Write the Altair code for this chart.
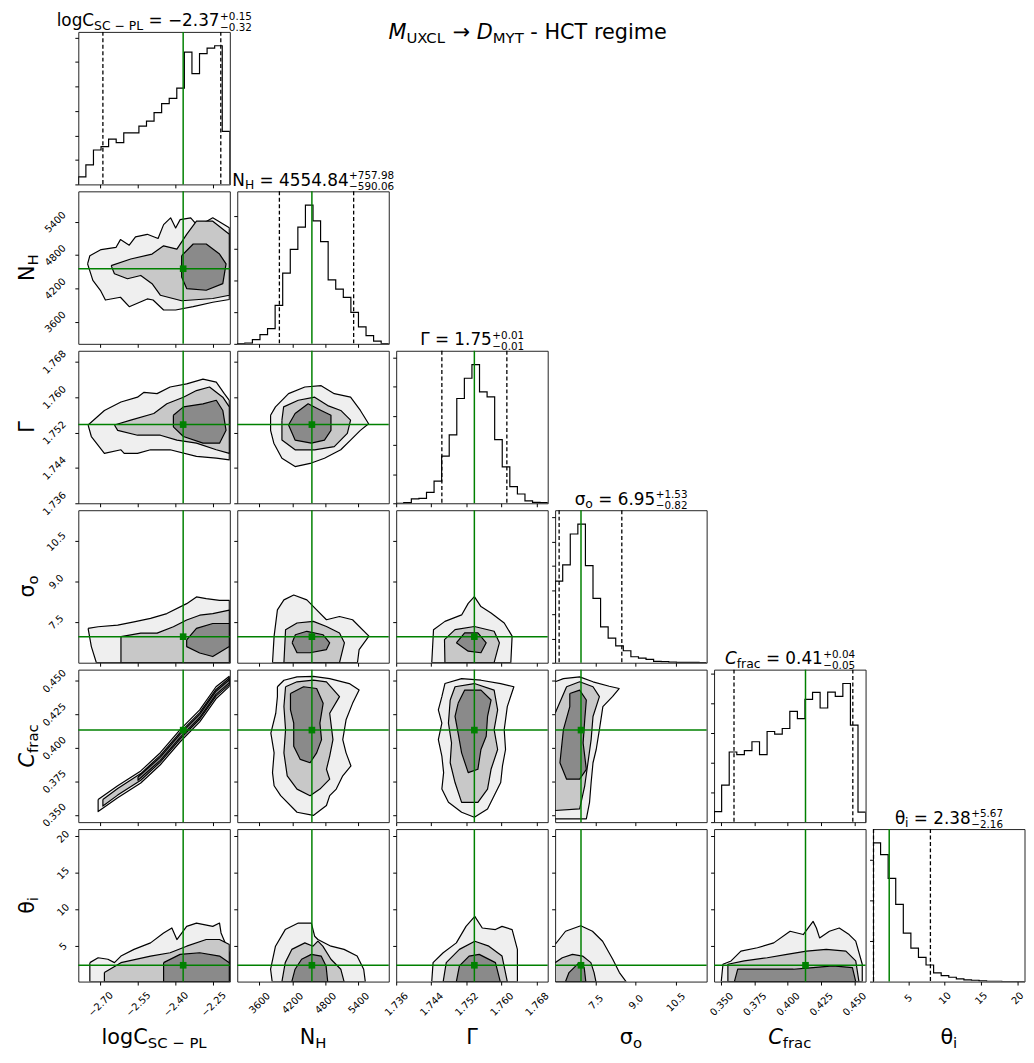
import altair as alt
import pandas as pd

FONT = "DejaVu Sans"
W, H = 153, 154
GREEN = "#008000"

# ---------------- data ----------------
domains = [[-2.788, -2.184], [3200, 5950], [1.736, 1.7705], [5.98, 11.66], [0.3445, 0.4585], [0.15, 21.0]]
tick_values = [[-2.70, -2.55, -2.40, -2.25], [3600, 4200, 4800, 5400],
               [1.736, 1.744, 1.752, 1.760, 1.768], [7.5, 9.0, 10.5],
               [0.350, 0.375, 0.400, 0.425, 0.450], [5, 10, 15, 20]]
tick_formats = [".2f", "d", ".3f", ".1f", ".3f", "d"]
medians = [-2.37, 4554.84, 1.7538, 6.95, 0.4133, 2.38]
q16 = [-2.69, 3964.78, 1.7464, 6.13, 0.3595, 0.22]
q84 = [-2.22, 5312.82, 1.7612, 8.48, 0.4489, 8.05]

hist_logC = [23, 59, 104, 114, 137, 126, 156, 156, 176, 191, 217, 244, 260, 291, 400, 335, 395, 412, 419, 160]
hist_NH = [1, 2, 13, 28, 46, 116, 213, 285, 352, 418, 371, 308, 193, 165, 140, 95, 51, 25, 8, 1]
hist_Gamma = [0, 2, 13, 15, 33, 67, 142, 206, 316, 377, 418, 336, 321, 192, 110, 50, 28, 7, 3, 2]
hist_sigma = [246, 295, 388, 418, 293, 194, 108, 74, 51, 36, 18, 14, 10, 4, 3, 2, 1, 1, 1, 0]
hist_Cfrac = [32, 112, 212, 204, 216, 243, 204, 274, 266, 283, 335, 313, 371, 392, 345, 393, 380, 419, 293, 30]
hist_theta = [418, 383, 311, 233, 146, 101, 73, 50, 26, 18, 13, 8, 5, 4, 2, 1, 1, 0, 0, 0]
hists = [hist_logC, hist_NH, hist_Gamma, hist_sigma, hist_Cfrac, hist_theta]
count_tick_step = [74, 96, 88, 73, 90, 122]

axis_labels = [("logC", "SC − PL", False), ("N", "H", False), ("Γ", "", False),
               ("σ", "o", False), ("C", "frac", True), ("θ", "i", False)]
value_str = ["−2.37", "4554.84", "1.75", "6.95", "0.41", "2.38"]
err_plus = ["+0.15", "+757.98", "+0.01", "+1.53", "+0.04", "+5.67"]
err_minus = ["−0.32", "−590.06", "−0.01", "−0.82", "−0.05", "−2.16"]

# contour polygons (x = column parameter, y = row parameter)
cont_1_0 = {
    "outer": [(-2.751, 4641), (-2.742, 4789), (-2.697, 4900), (-2.638, 4938), (-2.62, 5080), (-2.585, 4980),
              (-2.56, 5130), (-2.513, 5175), (-2.47, 5100), (-2.448, 5350), (-2.42, 5472), (-2.40, 5290),
              (-2.382, 5440), (-2.34, 5472), (-2.31, 5320), (-2.252, 5472), (-2.186, 5294), (-2.186, 4000),
              (-2.252, 3950), (-2.33, 3871), (-2.40, 3810), (-2.448, 3810), (-2.49, 3990), (-2.513, 4010),
              (-2.585, 3870), (-2.62, 4040), (-2.68, 3990), (-2.70, 4166), (-2.73, 4344)],
    "middle": [(-2.657, 4611), (-2.579, 4730), (-2.494, 4819), (-2.448, 4967), (-2.395, 4908), (-2.356, 5175),
               (-2.317, 5412), (-2.252, 5412), (-2.186, 5175), (-2.186, 4077), (-2.252, 4018), (-2.376, 3977),
               (-2.461, 4077), (-2.494, 4285), (-2.539, 4433), (-2.592, 4374), (-2.644, 4463)],
    "inner": [(-2.376, 4789), (-2.330, 5000), (-2.278, 5000), (-2.225, 4819), (-2.199, 4641), (-2.212, 4285),
              (-2.278, 4166), (-2.356, 4196), (-2.376, 4404)],
}
cont_2_0 = {
    "outer": [(-2.749, 1.7537), (-2.684, 1.7570), (-2.618, 1.7589), (-2.552, 1.7600), (-2.526, 1.7611),
              (-2.474, 1.7608), (-2.422, 1.7623), (-2.356, 1.7630), (-2.291, 1.7641), (-2.238, 1.7634),
              (-2.206, 1.7608), (-2.186, 1.7593), (-2.186, 1.7458), (-2.238, 1.7462), (-2.317, 1.7466),
              (-2.422, 1.7481), (-2.500, 1.7481), (-2.552, 1.7473), (-2.605, 1.7473), (-2.618, 1.7481),
              (-2.684, 1.7473), (-2.736, 1.7511)],
    "middle": [(-2.644, 1.7537), (-2.579, 1.7548), (-2.487, 1.7563), (-2.435, 1.7585), (-2.369, 1.7600),
               (-2.317, 1.7615), (-2.265, 1.7623), (-2.212, 1.7600), (-2.186, 1.7578), (-2.186, 1.7473),
               (-2.238, 1.7481), (-2.317, 1.7496), (-2.395, 1.7503), (-2.461, 1.7514), (-2.552, 1.7514),
               (-2.631, 1.7525)],
    "inner": [(-2.409, 1.7559), (-2.369, 1.7578), (-2.291, 1.7585), (-2.238, 1.7593), (-2.212, 1.7570),
              (-2.199, 1.7525), (-2.225, 1.7496), (-2.291, 1.7496), (-2.369, 1.7511), (-2.409, 1.7533)],
}
cont_2_1 = {
    "outer": [(3805, 1.7559), (3894, 1.7578), (4131, 1.7608), (4427, 1.7623), (4723, 1.7626), (4961, 1.7608),
              (5257, 1.7600), (5435, 1.7570), (5584, 1.7540), (5435, 1.7525), (5257, 1.7503), (5079, 1.7481),
              (4783, 1.7462), (4545, 1.7451), (4250, 1.7443), (4011, 1.7462), (3864, 1.7496), (3805, 1.7525)],
    "middle": [(4011, 1.7548), (4042, 1.7578), (4308, 1.7593), (4605, 1.7600), (4842, 1.7581), (5079, 1.7570),
               (5257, 1.7548), (5198, 1.7518), (4961, 1.7488), (4605, 1.7481), (4250, 1.7481), (4011, 1.7503)],
    "inner": [(4131, 1.7537), (4250, 1.7563), (4486, 1.7585), (4723, 1.7570), (4901, 1.7559), (4901, 1.7525),
              (4783, 1.7503), (4545, 1.7496), (4250, 1.7503)],
}
cont_3_0 = {
    "outer": [(-2.749, 7.26), (-2.709, 7.32), (-2.631, 7.38), (-2.566, 7.50), (-2.500, 7.63), (-2.435, 7.81),
              (-2.356, 8.18), (-2.317, 8.43), (-2.278, 8.37), (-2.225, 8.30), (-2.186, 8.30), (-2.186, 5.98),
              (-2.716, 5.98), (-2.736, 6.58)],
    "middle": [(-2.618, 6.95), (-2.539, 7.08), (-2.474, 7.08), (-2.409, 7.32), (-2.356, 7.57), (-2.304, 7.75),
               (-2.252, 7.81), (-2.186, 7.94), (-2.186, 5.98), (-2.618, 5.98)],
    "inner": [(-2.356, 6.83), (-2.317, 7.26), (-2.252, 7.44), (-2.186, 7.44), (-2.186, 6.58), (-2.252, 6.21),
              (-2.304, 6.34), (-2.356, 6.58)],
}
cont_3_1 = {
    "outer": [(3840, 5.98), (3869, 6.97), (3929, 7.95), (4047, 8.32), (4225, 8.50), (4463, 8.32), (4641, 7.95),
              (4819, 7.58), (5056, 7.70), (5293, 7.58), (5590, 6.97), (5412, 6.47), (5382, 5.98)],
    "middle": [(4047, 5.98), (4077, 7.21), (4285, 7.46), (4581, 7.52), (4819, 7.33), (5056, 7.09), (5145, 6.72),
               (5056, 5.98)],
    "inner": [(4196, 6.72), (4255, 7.02), (4463, 7.15), (4759, 7.02), (4878, 6.72), (4819, 6.47), (4522, 6.35),
              (4285, 6.35)],
}
cont_3_2 = {
    "outer": [(1.7441, 5.98), (1.7445, 7.21), (1.7471, 7.52), (1.7509, 7.76), (1.7524, 8.19), (1.7538, 8.44),
              (1.7553, 8.07), (1.7576, 7.83), (1.7606, 7.46), (1.7624, 6.97), (1.7621, 5.98)],
    "middle": [(1.7471, 5.98), (1.7470, 6.84), (1.7494, 7.21), (1.7538, 7.33), (1.7583, 7.15), (1.7595, 6.72),
               (1.7583, 5.98)],
    "inner": [(1.7497, 6.72), (1.7516, 7.09), (1.7546, 7.09), (1.7565, 6.72), (1.7553, 6.35), (1.7524, 6.41)],
}
cont_4_0 = {
    "outer": [(-2.709, 0.3614), (-2.631, 0.3717), (-2.539, 0.3828), (-2.461, 0.3964), (-2.382, 0.4136),
              (-2.304, 0.4284), (-2.239, 0.4457), (-2.186, 0.4535), (-2.186, 0.4460), (-2.239, 0.4367),
              (-2.304, 0.4194), (-2.382, 0.4046), (-2.461, 0.3874), (-2.539, 0.3738), (-2.631, 0.3627),
              (-2.709, 0.3524)],
    "middle": [(-2.690, 0.3615), (-2.631, 0.3697), (-2.539, 0.3808), (-2.461, 0.3944), (-2.382, 0.4116),
               (-2.304, 0.4264), (-2.239, 0.4437), (-2.186, 0.4523), (-2.186, 0.4473), (-2.239, 0.4387),
               (-2.304, 0.4214), (-2.382, 0.4066), (-2.461, 0.3894), (-2.539, 0.3758), (-2.631, 0.3647),
               (-2.690, 0.3565)],
    "inner": [(-2.550, 0.3782), (-2.461, 0.3931), (-2.382, 0.4103), (-2.304, 0.4251), (-2.239, 0.4424),
              (-2.186, 0.4510), (-2.186, 0.4486), (-2.239, 0.4400), (-2.304, 0.4227), (-2.382, 0.4079),
              (-2.461, 0.3907), (-2.550, 0.3758)],
}
cont_4_1 = {
    "outer": [(3929, 0.4457), (4047, 0.4506), (4285, 0.4531), (4581, 0.4535), (4878, 0.4518), (5234, 0.4481),
              (5412, 0.4432), (5293, 0.4333), (5175, 0.4210), (5115, 0.4062), (5175, 0.3963), (5264, 0.3865),
              (5115, 0.3791), (4997, 0.3692), (4878, 0.3643), (4819, 0.3569), (4581, 0.3495), (4285, 0.3519),
              (3988, 0.3643), (3869, 0.3717), (3840, 0.3815), (3869, 0.3963), (3810, 0.4111), (3899, 0.4259),
              (3929, 0.4383)],
    "middle": [(4077, 0.4457), (4285, 0.4494), (4581, 0.4506), (4819, 0.4494), (5056, 0.4383), (4878, 0.4259),
               (4937, 0.4062), (4878, 0.3939), (4819, 0.3840), (4878, 0.3766), (4700, 0.3692), (4522, 0.3643),
               (4285, 0.3692), (4107, 0.3791), (4047, 0.3963), (4077, 0.4136), (4047, 0.4309)],
    "inner": [(4166, 0.4407), (4403, 0.4457), (4641, 0.4444), (4759, 0.4333), (4700, 0.4185), (4730, 0.4062),
              (4641, 0.3963), (4522, 0.3889), (4344, 0.3914), (4225, 0.4013), (4225, 0.4185), (4166, 0.4284)],
}
cont_4_2 = {
    "outer": [(1.7464, 0.4383), (1.7471, 0.4481), (1.7509, 0.4518), (1.7553, 0.4506), (1.7598, 0.4481),
              (1.7628, 0.4457), (1.7613, 0.4309), (1.7606, 0.4136), (1.7609, 0.3988), (1.7602, 0.3865),
              (1.7598, 0.3741), (1.7583, 0.3643), (1.7568, 0.3544), (1.7538, 0.3482), (1.7509, 0.3519),
              (1.7479, 0.3593), (1.7464, 0.3692), (1.7468, 0.3815), (1.7464, 0.3939), (1.7456, 0.4062),
              (1.7464, 0.4185), (1.7456, 0.4284)],
    "middle": [(1.7483, 0.4358), (1.7494, 0.4457), (1.7538, 0.4481), (1.7583, 0.4432), (1.7591, 0.4284),
               (1.7583, 0.4136), (1.7591, 0.3988), (1.7576, 0.3840), (1.7568, 0.3692), (1.7546, 0.3593),
               (1.7509, 0.3593), (1.7494, 0.3741), (1.7483, 0.3889), (1.7486, 0.4037), (1.7479, 0.4185)],
    "inner": [(1.7501, 0.4333), (1.7516, 0.4432), (1.7553, 0.4432), (1.7576, 0.4358), (1.7568, 0.4235),
              (1.7565, 0.4087), (1.7553, 0.3988), (1.7546, 0.3840), (1.7524, 0.3815), (1.7509, 0.3963),
              (1.7501, 0.4111), (1.7494, 0.4235)],
}
cont_4_3 = {
    "outer": [(5.98, 0.4494), (6.29, 0.4518), (6.90, 0.4531), (7.40, 0.4494), (8.01, 0.4461), (8.38, 0.4444),
              (8.13, 0.4383), (7.77, 0.4309), (7.64, 0.4136), (7.52, 0.3988), (7.40, 0.3889), (7.33, 0.3741),
              (7.27, 0.3593), (7.15, 0.3470), (5.98, 0.3470)],
    "middle": [(5.98, 0.4259), (6.41, 0.4457), (6.90, 0.4494), (7.40, 0.4457), (7.64, 0.4383), (7.40, 0.4235),
               (7.33, 0.4062), (7.21, 0.3889), (7.09, 0.3717), (6.90, 0.3544), (5.98, 0.3532)],
    "inner": [(6.53, 0.4407), (6.90, 0.4432), (7.15, 0.4358), (7.09, 0.4210), (7.03, 0.4037), (7.15, 0.3840),
              (6.90, 0.3766), (6.41, 0.3766), (6.16, 0.3889), (6.29, 0.4136), (6.53, 0.4309)],
}
cont_5_0 = {
    "outer": [(-2.742, 2.74), (-2.709, 3.41), (-2.670, 3.20), (-2.644, 2.74), (-2.618, 3.64), (-2.566, 4.55),
              (-2.500, 5.44), (-2.448, 6.80), (-2.415, 7.48), (-2.395, 5.90), (-2.356, 7.70), (-2.317, 8.15),
              (-2.252, 7.70), (-2.225, 8.15), (-2.219, 6.80), (-2.186, 4.09), (-2.186, 0.15), (-2.742, 0.15)],
    "middle": [(-2.684, 1.38), (-2.618, 2.74), (-2.500, 3.64), (-2.422, 4.09), (-2.356, 4.99), (-2.278, 5.90),
               (-2.225, 5.90), (-2.186, 5.22), (-2.186, 0.15), (-2.684, 0.15)],
    "inner": [(-2.448, 2.74), (-2.382, 3.87), (-2.304, 4.09), (-2.225, 3.64), (-2.186, 2.74), (-2.186, 0.15),
              (-2.448, 0.15)],
}
cont_5_1 = {
    "outer": [(3834, 0.15), (3805, 1.84), (3894, 4.99), (4071, 7.26), (4308, 8.15), (4545, 8.15), (4605, 6.35),
              (4664, 5.90), (4901, 4.99), (5139, 4.55), (5376, 3.64), (5495, 1.84), (5524, 0.15)],
    "middle": [(4011, 0.15), (4071, 2.74), (4190, 4.55), (4427, 5.44), (4575, 4.99), (4664, 5.67), (4753, 4.99),
               (4901, 3.20), (5079, 1.84), (5139, 0.15)],
    "inner": [(4190, 0.15), (4250, 1.84), (4368, 3.20), (4545, 3.87), (4723, 3.64), (4812, 2.29), (4842, 0.15)],
}
cont_5_2 = {
    "outer": [(1.7441, 0.15), (1.7444, 2.74), (1.7467, 4.09), (1.7497, 5.44), (1.7519, 7.70), (1.7539, 9.06),
              (1.7556, 7.48), (1.7586, 7.26), (1.7601, 7.70), (1.7624, 7.26), (1.7636, 4.55), (1.7636, 0.15)],
    "middle": [(1.7467, 0.15), (1.7474, 2.74), (1.7504, 4.55), (1.7539, 5.67), (1.7571, 4.99), (1.7601, 3.64),
               (1.7613, 0.15)],
    "inner": [(1.7497, 0.15), (1.7504, 2.29), (1.7526, 3.64), (1.7549, 3.87), (1.7586, 2.74), (1.7597, 0.15)],
}
cont_5_3 = {
    "outer": [(5.98, 5.22), (6.37, 7.03), (6.94, 7.79), (7.38, 7.03), (7.76, 5.67), (8.14, 3.20), (8.39, 1.38),
              (8.64, 0.15), (5.98, 0.15)],
    "middle": [(5.98, 2.74), (6.25, 3.41), (6.63, 3.87), (7.01, 3.64), (7.32, 2.74), (7.44, 1.38), (7.51, 0.15),
               (5.98, 0.15)],
    "inner": [(6.37, 0.15), (6.50, 1.38), (6.88, 2.74), (7.07, 2.06), (7.13, 0.15)],
}
cont_5_4 = {
    "outer": [(0.3499, 0.15), (0.3512, 2.52), (0.3573, 2.97), (0.3647, 4.32), (0.3771, 4.77), (0.3894, 5.44),
              (0.4017, 7.03), (0.4116, 6.58), (0.4190, 8.38), (0.4215, 7.47), (0.4239, 6.12), (0.4313, 7.03),
              (0.4387, 7.47), (0.4461, 6.58), (0.4511, 5.67), (0.4560, 2.52), (0.4560, 0.15)],
    "middle": [(0.3549, 0.15), (0.3549, 2.52), (0.3672, 2.97), (0.3845, 3.41), (0.3993, 3.87), (0.4141, 4.32),
               (0.4289, 4.55), (0.4437, 4.32), (0.4511, 2.97), (0.4535, 0.15)],
    "inner": [(0.3598, 0.15), (0.3623, 1.84), (0.3894, 1.84), (0.4042, 1.84), (0.4190, 2.06), (0.4338, 2.29),
              (0.4486, 2.06), (0.4511, 0.15)],
}
contours = {(1, 0): cont_1_0, (2, 0): cont_2_0, (2, 1): cont_2_1, (3, 0): cont_3_0, (3, 1): cont_3_1,
            (3, 2): cont_3_2, (4, 0): cont_4_0, (4, 1): cont_4_1, (4, 2): cont_4_2, (4, 3): cont_4_3,
            (5, 0): cont_5_0, (5, 1): cont_5_1, (5, 2): cont_5_2, (5, 3): cont_5_3, (5, 4): cont_5_4}

# ---------------- styling ----------------
xlabel_pad = [19, 18, 19, 17, 19, 13]
ylabel_pad = [20, 20, 21, 19, 21, 12]
level_fill = [("outer", "#efefef"), ("middle", "#c8c8c8"), ("inner", "#8a8a8a")]

CW = {" ": .318, "+": .838, "=": .838, "−": .838, "-": .361, ".": .318, "→": .838,
      "C": .698, "D": .770, "H": .752, "L": .557, "M": .863, "N": .748, "P": .603, "S": .635,
      "T": .611, "U": .732, "X": .685, "Y": .611, "a": .613, "c": .550, "e": .615, "f": .352,
      "g": .635, "i": .278, "l": .278, "m": .974, "o": .612, "r": .411, "Γ": .557, "σ": .634, "θ": .602}
for d in "0123456789":
    CW[d] = .636


def tw(s, size):
    return sum(CW.get(ch, 0.6) for ch in s) * size


ONE = pd.DataFrame({"k": [0]})


def txt(s, x, y, size, italic=False, align="left", angle=None):
    kw = dict(text=s, font=FONT, fontSize=size, align=align, baseline="alphabetic", color="black")
    if italic:
        kw["fontStyle"] = "italic"
    if angle is not None:
        kw["angle"] = angle
    return alt.Chart(ONE).mark_text(**kw).encode(x=alt.value(x), y=alt.value(y))


def enc_x(i, show):
    return alt.X("x:Q", scale=alt.Scale(domain=domains[i], nice=False, zero=False),
                 axis=alt.Axis(values=tick_values[i], format=tick_formats[i], labels=show, title=None,
                               labelPadding=xlabel_pad[i]))


def enc_y(i, show):
    return alt.Y("y:Q", scale=alt.Scale(domain=domains[i], nice=False, zero=False),
                 axis=alt.Axis(values=tick_values[i], format=tick_formats[i], labels=show, title=None,
                               labelPadding=ylabel_pad[i]))


def diag_title(i):
    lab, lsub, ital = axis_labels[i]
    eq = "= " + value_str[i]
    s1, s2, s3 = 17, 12.5, 10.5
    sp = tw(" ", s1)
    w1, w2, w3 = tw(lab, s1), tw(lsub, s2), tw(eq, s1)
    w4 = max(tw(err_plus[i], s3), tw(err_minus[i], s3))
    x0 = W / 2 - (w1 + w2 + sp + w3 + w4) / 2
    out = [txt(lab, x0, -5.5, s1, ital)]
    if lsub:
        out.append(txt(lsub, x0 + w1, -2, s2))
    out.append(txt(eq, x0 + w1 + w2 + sp, -5.5, s1))
    xs = x0 + w1 + w2 + sp + w3 + 0.5
    out.append(txt(err_plus[i], xs, -12, s3))
    out.append(txt(err_minus[i], xs, -1, s3))
    return out


def x_title(i):
    lab, lsub, ital = axis_labels[i]
    w1, w2 = tw(lab, 21), tw(lsub, 15)
    x0 = W / 2 - (w1 + w2) / 2
    out = [txt(lab, x0, H + 63, 21, ital)]
    if lsub:
        out.append(txt(lsub, x0 + w1, H + 67, 15))
    return out


def y_title(i):
    lab, lsub, ital = axis_labels[i]
    w1, w2 = tw(lab, 21), tw(lsub, 15)
    p = H / 2 + (w1 + w2) / 2 - w1
    out = [txt(lab, -45, p, 21, ital, align="right", angle=270)]
    if lsub:
        out.append(txt(lsub, -41, p, 15, align="left", angle=270))
    return out


def diag(i):
    hist = hists[i]
    lo, hi = domains[i]
    edges = [lo + k * (hi - lo) / len(hist) for k in range(len(hist) + 1)]
    xs, ys = [edges[0]], [0]
    for k, h in enumerate(hist):
        xs += [edges[k], edges[k + 1]]
        ys += [h, h]
    xs.append(edges[-1])
    ys.append(0)
    df = pd.DataFrame({"x": xs, "y": ys, "o": list(range(len(xs)))})
    top = 1.1 * max(hist)
    step = count_tick_step[i]
    yvals = [k * step for k in range(int(top / step) + 1)]
    X = enc_x(i, i == 5)
    Y = alt.Y("y:Q", scale=alt.Scale(domain=[0, top], nice=False, zero=True),
              axis=alt.Axis(values=yvals, labels=False, title=None))
    layers = [
        alt.Chart(df).mark_line(color="black", strokeWidth=1.2, clip=True).encode(x=X, y=Y, order="o:Q"),
        alt.Chart(pd.DataFrame({"x": [q16[i], q84[i]]})).mark_rule(
            color="black", strokeDash=[4, 2.5], strokeWidth=1.3).encode(x=X),
        alt.Chart(pd.DataFrame({"x": [medians[i]]})).mark_rule(color=GREEN, strokeWidth=1.5).encode(x=X),
    ]
    layers += diag_title(i)
    if i == 5:
        layers += x_title(i)
    return alt.layer(*layers).properties(width=W, height=H)


def panel(r, c):
    X = enc_x(c, r == 5)
    Y = enc_y(r, c == 0)
    layers = []
    cont = contours[(r, c)]
    for level, fc in level_fill:
        pts = cont[level] + [cont[level][0]]
        df = pd.DataFrame({"x": [p[0] for p in pts], "y": [p[1] for p in pts], "o": list(range(len(pts)))})
        layers.append(alt.Chart(df).mark_line(fill=fc, stroke="black", strokeWidth=1.2, clip=True,
                                              strokeJoin="round").encode(x=X, y=Y, order="o:Q"))
    layers.append(alt.Chart(pd.DataFrame({"x": [medians[c]]})).mark_rule(color=GREEN, strokeWidth=1.5).encode(x=X))
    layers.append(alt.Chart(pd.DataFrame({"y": [medians[r]]})).mark_rule(color=GREEN, strokeWidth=1.5).encode(y=Y))
    layers.append(alt.Chart(pd.DataFrame({"x": [medians[c]], "y": [medians[r]]})).mark_square(
        size=45, color=GREEN, opacity=1).encode(x=X, y=Y))
    if r == 5:
        layers += x_title(c)
    if c == 0:
        layers += y_title(r)
    return alt.layer(*layers).properties(width=W, height=H)


def empty(with_title=False):
    layers = [txt("", 0, 0, 10)]
    if with_title:
        # (text, size, baseline shift, italic, gap before)
        parts = [("M", 21, 0, True, 0), ("UXCL", 15, 4, False, 0), ("→", 21, 0, False, 1),
                 ("D", 21, 0, True, 1), ("MYT", 15, 4, False, 0), ("- HCT regime", 21, 0, False, 1)]
        sp = tw(" ", 21)
        total = sum(tw(p[0], p[1]) + p[4] * sp for p in parts)
        x = 133 - total / 2
        for s, size, dy, ital, gap in parts:
            x += gap * sp
            layers.append(txt(s, x, 7 + dy, size, ital))
            x += tw(s, size)
    return alt.layer(*layers).properties(width=W, height=H, view=alt.ViewBackground(stroke="transparent"))


cells = []
for r in range(6):
    for c in range(6):
        if r == c:
            cells.append(diag(r))
        elif r > c:
            cells.append(panel(r, c))
        else:
            cells.append(empty(with_title=(r == 0 and c == 2)))

chart = alt.concat(*cells, columns=6, spacing={"row": 7, "column": 7.5}, bounds="flush").properties(
    padding={"left": 8, "top": -2, "right": 0, "bottom": -2}
).configure_view(stroke="#222222", strokeWidth=1).configure_axis(
    domain=False, grid=False, tickColor="black", tickSize=3.5, tickWidth=1,
    labelFont=FONT, labelFontSize=10, labelColor="black", labelAngle=315,
    labelAlign="center", labelBaseline="middle", labelOverlap=False, labelFlush=False
)

chart.save("out.html", embed_options={"renderer": "svg", "actions": False})
